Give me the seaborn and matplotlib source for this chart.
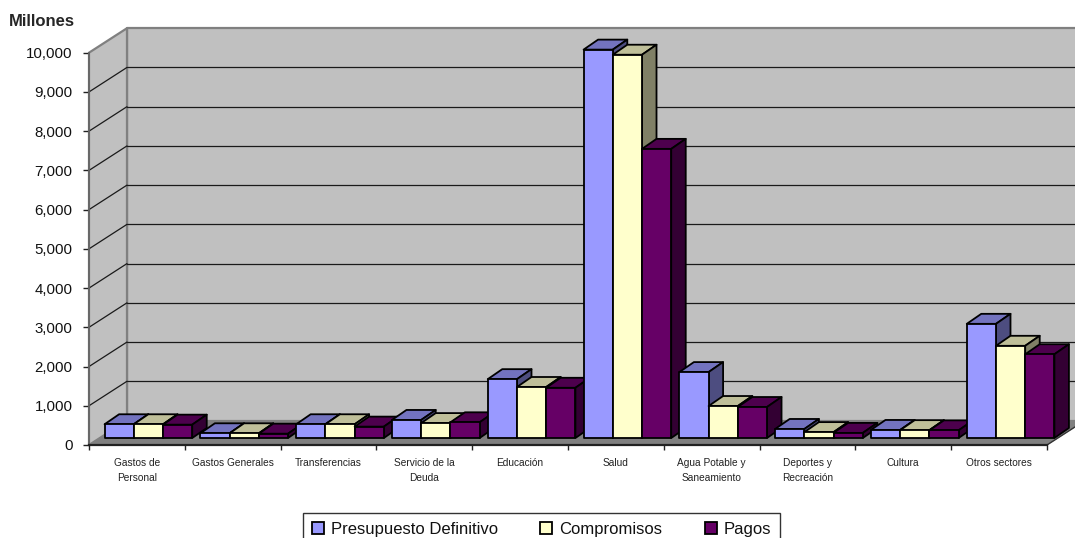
import matplotlib
matplotlib.use("Agg")
import matplotlib.pyplot as plt
from matplotlib.colors import to_rgb
from matplotlib.lines import Line2D
from matplotlib.patches import Polygon
from matplotlib.transforms import IdentityTransform
import pandas as pd
import seaborn as sns

# Datos (millones)
sectores = ["Gastos de\nPersonal", "Gastos Generales", "Transferencias", "Servicio de la\nDeuda",
            "Educación", "Salud", "Agua Potable y\nSaneamiento", "Deportes y\nRecreación",
            "Cultura", "Otros sectores"]
presupuesto = [350, 120, 350, 460, 1500, 9900, 1680, 230, 205, 2910]
compromisos = [350, 120, 350, 380, 1300, 9770, 815, 150, 200, 2350]
pagos = [340, 110, 290, 400, 1280, 7370, 790, 130, 195, 2135]
colores = ["#9999FF", "#FFFFCC", "#660066"]
yticks = list(range(0, 11000, 1000))

W, H = 1075, 538
sns.set_theme(style="white", rc={"xtick.bottom": True, "ytick.left": True})
plt.rcParams["font.family"] = ["Liberation Sans", "DejaVu Sans"]

df = pd.DataFrame({"sector": sectores, "Presupuesto Definitivo": presupuesto,
                   "Compromisos": compromisos, "Pagos": pagos})
largo = df.melt(id_vars="sector", var_name="serie", value_name="valor")

fig = plt.figure(figsize=(W / 100, H / 100), dpi=100)
ax = fig.add_axes([89 / W, (H - 445) / H, 958 / W, 392.3 / H])
sns.barplot(data=largo, x="sector", y="valor", hue="serie", palette=colores,
            width=0.915, gap=0, edgecolor="black", linewidth=1.3, saturation=1, ax=ax)
ax.set_xlim(-0.5, 9.5)
ax.set_ylim(0, 10000)
ax.set_xlabel("")
ax.set_ylabel("")
ax.patch.set_visible(False)
fig.canvas.draw()

# profundidad del "3D" en pixeles
PX, PY = 38, 24.5      # paredes
GX, GY = 11.5, 7       # hueco delante de las barras
BX, BY = 14.5, 10      # fondo de cada barra
PARED = "#C0C0C0"
SUELO = "#808080"


def px(x, y):
    return tuple(ax.transData.transform((x, y)))


def poli(puntos, color, z, borde="black", lw=1.3):
    ax.add_patch(Polygon(puntos, closed=True, facecolor=color, edgecolor=borde, linewidth=lw,
                         transform=IdentityTransform(), clip_on=False, zorder=z, joinstyle="round"))


def linea(p0, p1, color="#1a1a1a", lw=0.9, z=0.6):
    ax.add_line(Line2D([p0[0], p1[0]], [p0[1], p1[1]], color=color, linewidth=lw,
                       transform=IdentityTransform(), clip_on=False, zorder=z))


x0, y0 = px(-0.5, 0)
x1, y1 = px(9.5, 10000)

# paredes y suelo
poli([(x0 + PX, y0 + PY), (x1 + PX, y0 + PY), (x1 + PX, y1 + PY), (x0 + PX, y1 + PY)], PARED, 0.2, SUELO, 1.6)
poli([(x0, y0), (x0 + PX, y0 + PY), (x0 + PX, y1 + PY), (x0, y1)], PARED, 0.3, SUELO, 1.6)
poli([(x0, y0), (x1, y0), (x1 + PX, y0 + PY), (x0 + PX, y0 + PY)], SUELO, 0.8, SUELO, 0.5)
linea((x1, y0), (x1 + PX, y0 + PY), "#333333", 1.0, 0.9)
for v in yticks[1:-1]:
    _, yy = px(0, v)
    linea((x0, yy), (x0 + PX, yy + PY))
    linea((x0 + PX, yy + PY), (x1 + PX, yy + PY))

# barras: cara superior, lateral y frontal, de izquierda a derecha
barras = []
for cont, color in zip(ax.containers, colores):
    barras += [(b, color) for b in cont]
barras.sort(key=lambda t: t[0].get_x())
for i, (b, color) in enumerate(barras):
    xa, ya = px(b.get_x(), 0)
    xb, yb = px(b.get_x() + b.get_width(), b.get_height())
    xa, xb = xa + GX, xb + GX
    ya, yb = ya + GY, yb + GY
    rgb = to_rgb(color)
    z = 3 + i * 0.01
    poli([(xa, yb), (xb, yb), (xb + BX, yb + BY), (xa + BX, yb + BY)], [c * 0.75 for c in rgb], z)
    poli([(xb, ya), (xb + BX, ya + BY), (xb + BX, yb + BY), (xb, yb)], [c * 0.5 for c in rgb], z)
    poli([(xa, ya), (xb, ya), (xb, yb), (xa, yb)], rgb, z + 0.001)
    b.set_visible(False)

# ejes y etiquetas
for lado in ["top", "right"]:
    ax.spines[lado].set_visible(False)
ax.spines["left"].set_color("#666666")
ax.spines["left"].set_linewidth(1.3)
ax.spines["bottom"].set_color("#222222")
ax.spines["bottom"].set_linewidth(1.6)
ax.set_yticks(yticks)
ax.set_yticklabels([f"{v:,}" for v in yticks], fontsize=10.8, color="#111111")
ax.tick_params(axis="y", length=4.3, width=1, color="#222222", pad=7.5)
ax.set_xticks([i - 0.5 for i in range(11)])
ax.set_xticklabels([])
ax.set_xticks(range(10), minor=True)
ax.set_xticklabels(sectores, minor=True, fontsize=7.3, linespacing=1.65, color="#222222")
ax.tick_params(axis="x", which="major", length=3.6, width=1, color="#222222")
ax.tick_params(axis="x", which="minor", length=0, pad=9)

fig.text(9 / W, 1 - 22 / H, "Millones", fontsize=12, fontweight="bold", va="center", ha="left")

sns.move_legend(ax, "upper left", bbox_to_anchor=(303 / W, 1 - 513 / H), bbox_transform=fig.transFigure,
                ncol=3, title=None, frameon=True, fancybox=False, framealpha=1, edgecolor="#333333",
                fontsize=12, handlelength=0.72, handleheight=0.72, handletextpad=0.4, columnspacing=2.55,
                borderpad=0.55, borderaxespad=0, labelcolor="#111111")

fig.savefig("out.png", dpi=100)
